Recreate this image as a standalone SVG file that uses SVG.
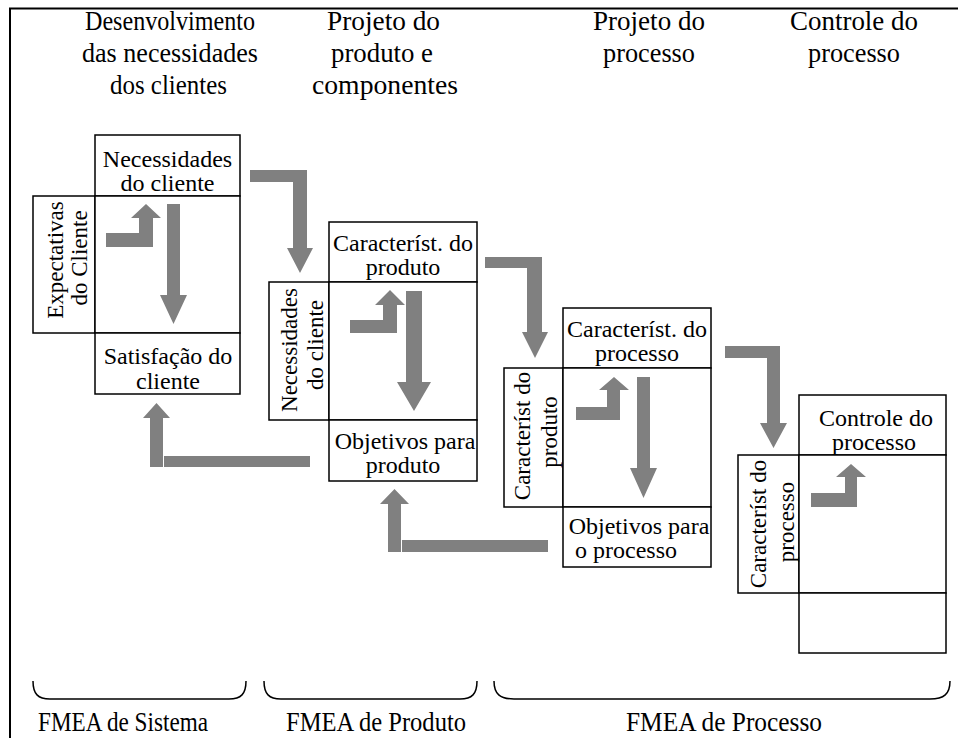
<svg xmlns="http://www.w3.org/2000/svg" width="958" height="738" viewBox="0 0 958 738">
<style>
.bx{fill:#fff;stroke:#000;stroke-width:1.5}
.t{font-family:"Liberation Serif","Times New Roman",serif;font-size:24px;fill:#000;text-anchor:middle}
.r{font-family:"Liberation Serif","Times New Roman",serif;font-size:23px;fill:#000;text-anchor:middle}
.h{font-family:"Liberation Serif","Times New Roman",serif;font-size:27px;fill:#000}
.ar{fill:#808080}
.br{fill:none;stroke:#000;stroke-width:1.5}
</style>
<rect width="958" height="738" fill="#fff"/>
<path d="M10,738 V8.5 H958" fill="none" stroke="#000" stroke-width="2"/>

<g id="headers">
<text class="h" x="85" y="30" textLength="170" lengthAdjust="spacingAndGlyphs">Desenvolvimento</text>
<text class="h" x="82" y="62" textLength="176" lengthAdjust="spacingAndGlyphs">das necessidades</text>
<text class="h" x="110" y="94" textLength="117" lengthAdjust="spacingAndGlyphs">dos clientes</text>
<text class="h" x="327" y="30" textLength="113" lengthAdjust="spacingAndGlyphs">Projeto do</text>
<text class="h" x="331" y="62" textLength="102" lengthAdjust="spacingAndGlyphs">produto e</text>
<text class="h" x="312" y="94" textLength="146" lengthAdjust="spacingAndGlyphs">componentes</text>
<text class="h" x="593" y="30" textLength="112" lengthAdjust="spacingAndGlyphs">Projeto do</text>
<text class="h" x="603" y="62" textLength="92" lengthAdjust="spacingAndGlyphs">processo</text>
<text class="h" x="790" y="30" textLength="128" lengthAdjust="spacingAndGlyphs">Controle do</text>
<text class="h" x="808" y="62" textLength="92" lengthAdjust="spacingAndGlyphs">processo</text>
</g>

<g id="block1">
<rect class="bx" x="95" y="135" width="145" height="61"/>
<rect class="bx" x="33" y="196" width="62" height="137"/>
<rect class="bx" x="95" y="196" width="145" height="137"/>
<rect class="bx" x="95" y="333" width="145" height="61"/>
<text class="t" x="167.5" y="167">Necessidades</text>
<text class="t" x="167.5" y="191">do cliente</text>
<text class="t" x="168" y="364">Satisfação do</text>
<text class="t" x="168" y="389">cliente</text>
<text class="r" transform="translate(63,260) rotate(-90)">Expectativas</text>
<text class="r" transform="translate(87,258) rotate(-90)">do Cliente</text>
</g>

<g id="block2">
<rect class="bx" x="329" y="222" width="148" height="60"/>
<rect class="bx" x="269" y="282" width="60" height="138"/>
<rect class="bx" x="329" y="282" width="148" height="138"/>
<rect class="bx" x="329" y="420" width="148" height="61"/>
<text class="t" x="403" y="251">Característ. do</text>
<text class="t" x="403" y="275">produto</text>
<text class="t" x="405" y="449">Objetivos para</text>
<text class="t" x="403" y="473">produto</text>
<text class="r" transform="translate(297,350) rotate(-90)">Necessidades</text>
<text class="r" transform="translate(323,345) rotate(-90)">do cliente</text>
</g>

<g id="block3">
<rect class="bx" x="563" y="308" width="148" height="60"/>
<rect class="bx" x="504" y="368" width="59" height="139"/>
<rect class="bx" x="563" y="368" width="148" height="139"/>
<rect class="bx" x="563" y="507" width="148" height="60"/>
<text class="t" x="637" y="337">Característ. do</text>
<text class="t" x="637" y="361">processo</text>
<text class="t" x="639" y="534">Objetivos para</text>
<text class="t" x="626" y="558">o processo</text>
<text class="r" transform="translate(530,436) rotate(-90)">Característ do</text>
<text class="r" transform="translate(557,432) rotate(-90)">produto</text>
</g>

<g id="block4">
<rect class="bx" x="799" y="395" width="147" height="60"/>
<rect class="bx" x="738" y="455" width="61" height="138"/>
<rect class="bx" x="799" y="455" width="147" height="138"/>
<rect class="bx" x="799" y="593" width="147" height="60"/>
<text class="t" x="876" y="426">Controle do</text>
<text class="t" x="874" y="450">processo</text>
<text class="r" transform="translate(766,524) rotate(-90)">Característ do</text>
<text class="r" transform="translate(794,522) rotate(-90)">processo</text>
</g>

<g id="connectors">
<polygon class="ar" points="106,233 139,233 139,218 131,218 146,204 161,218 153,218 153,247 106,247"/>
<polygon class="ar" points="167,204 180,204 180,295 187,295 173.5,324 160,295 167,295"/>
<polygon class="ar" points="250,170 307,170 307,248 313,248 300,273 287,248 293,248 293,182 250,182"/>
<polygon class="ar" points="150,467 150,418 143,418 156.5,403 170,418 163,418 163,467"/>
<rect class="ar" x="164" y="456" width="146" height="11"/>

<polygon class="ar" points="350,320 383,320 383,305 375,305 390,290 405,305 397,305 397,333 350,333"/>
<polygon class="ar" points="406,291 422,291 422,382 431,382 414,411 397,382 406,382"/>
<polygon class="ar" points="485,257 542,257 542,332 548,332 535,358 522,332 527,332 527,268 485,268"/>
<polygon class="ar" points="388,552 388,504 380,504 394.5,489 409,504 401,504 401,552"/>
<rect class="ar" x="402" y="540" width="146" height="12"/>

<polygon class="ar" points="576,407 607,407 607,390 599,390 614,377 629,390 620,390 620,420 576,420"/>
<polygon class="ar" points="637,377 650,377 650,468 657,468 643.5,498 630,468 637,468"/>
<polygon class="ar" points="725,346 780,346 780,423 787,423 773.5,448 760,423 767,423 767,358 725,358"/>

<polygon class="ar" points="811,493 845,493 845,477 836,477 851,464 866,477 857,477 857,507 811,507"/>
</g>

<g id="braces">
<path class="br" d="M33,681 C33,694 38,699 50,699 L229,699 C241,699 246,694 246,681"/>
<path class="br" d="M264,681 C264,694 269,699 281,699 L460,699 C472,699 477,694 477,681"/>
<path class="br" d="M494,681 C494,694 500,699 514,699 L930,699 C944,699 950,694 950,681"/>
<text class="h" x="38" y="731" textLength="170" lengthAdjust="spacingAndGlyphs">FMEA de Sistema</text>
<text class="h" x="286" y="731" textLength="180" lengthAdjust="spacingAndGlyphs">FMEA de Produto</text>
<text class="h" x="626" y="731" textLength="196" lengthAdjust="spacingAndGlyphs">FMEA de Processo</text>
</g>
</svg>
